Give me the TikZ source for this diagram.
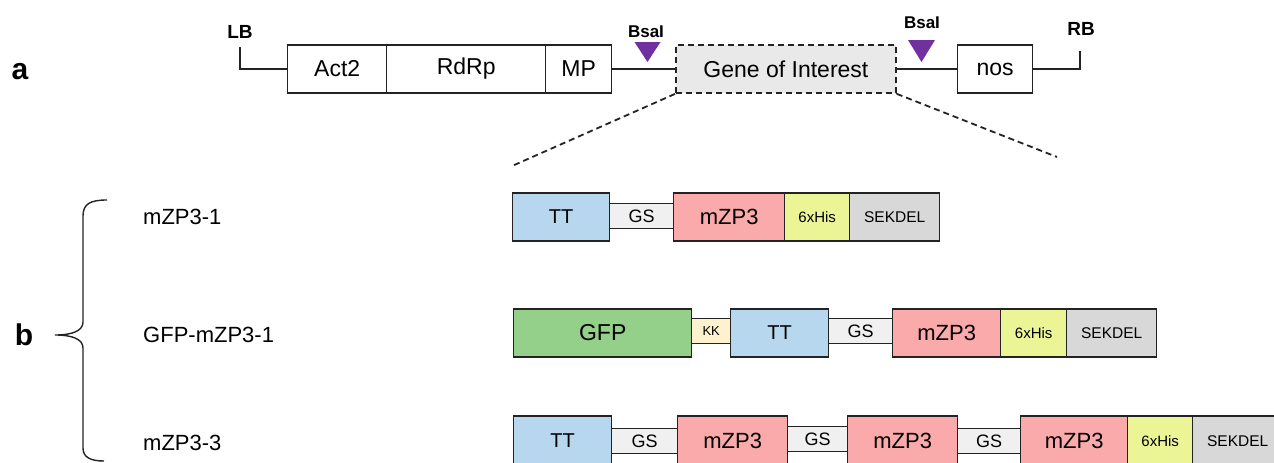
\documentclass[tikz,border=0pt]{standalone}
\usepackage{fontspec}
\setmainfont{Liberation Sans}
\definecolor{ttc}{RGB}{182,215,238}
\definecolor{gsc}{RGB}{240,240,240}
\definecolor{zpc}{RGB}{250,170,170}
\definecolor{hisc}{RGB}{236,245,150}
\definecolor{sekc}{RGB}{216,216,216}
\definecolor{gfpc}{RGB}{148,208,138}
\definecolor{kkc}{RGB}{253,241,206}
\definecolor{goic}{RGB}{233,233,233}
\definecolor{bsac}{RGB}{112,48,160}
\definecolor{edge}{RGB}{35,35,35}
\newcommand\fsz[1]{\fontsize{#1}{#1}\selectfont}
\begin{document}
\begin{tikzpicture}[x=1pt,y=-1pt,
  blk/.style={draw=edge, line width=1.4pt, inner sep=0pt, anchor=west, minimum height=48pt},
  abox/.style={blk, fill=white, font=\fsz{23}},
  lnk/.style={blk, minimum height=25pt},
  tt/.style={blk, fill=ttc, font=\fsz{20}},
  gs/.style={lnk, fill=gsc, font=\fsz{18}},
  kk/.style={lnk, fill=kkc, font=\fsz{13}},
  zp/.style={blk, fill=zpc, font=\fsz{22}},
  his/.style={blk, fill=hisc, font=\fsz{15}},
  sek/.style={blk, fill=sekc, font=\fsz{15.5}},
  gfp/.style={blk, fill=gfpc, font=\fsz{23}},
  tall/.style={minimum height=50pt},
  ln/.style={draw=edge, line width=1.4pt},
  dsh/.style={draw=edge, line width=1.8pt, dash pattern=on 6pt off 4pt},
  tag/.style={font=\fsz{19}\bfseries, inner sep=0pt},
  bsatag/.style={font=\fsz{17}\bfseries, inner sep=0pt},
  panel/.style={font=\fsz{30}\bfseries, inner sep=0pt},
  rowlbl/.style={font=\fsz{22}, inner sep=0pt, anchor=west}
]
\useasboundingbox (0,0) rectangle (1274,463);

% ---------- panel a ----------
\node[panel] (pa) at (20,72) {a};
\node[tag] (lb) at (240,32) {LB};
\node[tag] (rb) at (1081,29) {RB};
\node[bsatag] (bsa1) at (646,32) {BsaI};
\node[bsatag] (bsa2) at (922,23) {BsaI};

\node[abox, minimum width=99pt] (act2) at (287,69) {Act2};
\node[abox, minimum width=159pt] (rdrp) at (386,69) {RdRp};
\node[abox, minimum width=66pt] (mp) at (545,69) {MP};
\node[abox, dash pattern=on 6pt off 4pt, line width=1.8pt, fill=goic, minimum width=220pt] (goi) at (675,69) {Gene of Interest};
\node[abox, minimum width=75pt] (nos) at (957,69) {nos};

\coordinate (lbtop) at (240,47);
\coordinate (rbtop) at (1080,51);
\draw[ln] (lbtop) |- (act2.west);
\draw[ln] (mp.east) -- (goi.west);
\draw[ln] (goi.east) -- (nos.west);
\draw[ln] (nos.east) -| (rbtop);

\fill[bsac] (634.5,42) -- (660.5,42) -- (647.5,62) -- cycle;
\fill[bsac] (908,40) -- (935,40) -- (921.5,62) -- cycle;

\coordinate (zl) at (512,166);
\coordinate (zr) at (1057,157);
\draw[dsh] (goi.south west) -- (zl);
\draw[dsh] (goi.south east) -- (zr);

% ---------- panel b ----------
\node[panel] (pb) at (24,335) {b};
\draw[ln] (107,200) .. controls (90,200) and (83,204) .. (83,216)
  -- (83,322) .. controls (83,331) and (72,335) .. (55,335)
  .. controls (72,335) and (83,339) .. (83,348)
  -- (83,448) .. controls (83,457) and (90,461) .. (104,461);

\node[rowlbl] (l1) at (143,217) {mZP3-1};
\node[rowlbl] (l2) at (143,335) {GFP-mZP3-1};
\node[rowlbl] (l3) at (143,443) {mZP3-3};

% row 1
\node[tt, minimum width=97pt] (a1) at (512,217) {TT};
\node[gs, minimum width=64pt] (a2) at (609,216) {GS};
\node[zp, minimum width=111pt] (a3) at (673,217) {mZP3};
\node[his, minimum width=65pt] (a4) at (784,217) {6xHis};
\node[sek, minimum width=90pt] (a5) at (849,217) {SEKDEL};

% row 2
\node[gfp, minimum width=178pt] (b1) at (513,333) {GFP};
\node[kk, minimum width=39pt] (b2) at (691,331) {KK};
\node[tt, minimum width=98pt] (b3) at (730,333) {TT};
\node[gs, minimum width=64pt] (b4) at (828,331) {GS};
\node[zp, minimum width=108pt] (b5) at (892,333) {mZP3};
\node[his, minimum width=66pt] (b6) at (1000,333) {6xHis};
\node[sek, minimum width=90pt] (b7) at (1066,333) {SEKDEL};

% row 3
\node[tt, tall, minimum width=98pt] (c1) at (513,441) {TT};
\node[gs, minimum width=66pt] (c2) at (611,441) {GS};
\node[zp, tall, minimum width=110pt] (c3) at (677,441) {mZP3};
\node[gs, minimum width=60pt] (c4) at (787,439) {GS};
\node[zp, tall, minimum width=110pt] (c5) at (847,441) {mZP3};
\node[gs, minimum width=63pt] (c6) at (957,441) {GS};
\node[zp, tall, minimum width=107pt] (c7) at (1020,441) {mZP3};
\node[his, tall, minimum width=65pt] (c8) at (1127,441) {6xHis};
\node[sek, tall, minimum width=90pt] (c9) at (1192,441) {SEKDEL};
\end{tikzpicture}
\end{document}
